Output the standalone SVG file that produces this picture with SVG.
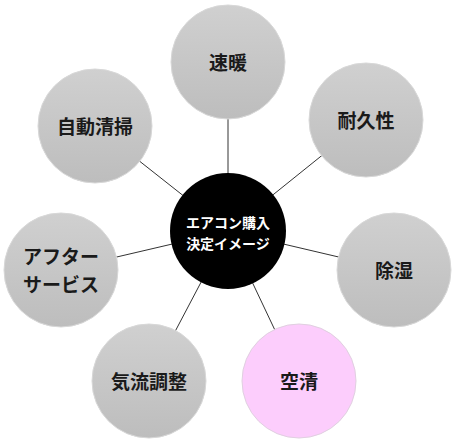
<svg xmlns="http://www.w3.org/2000/svg" width="457" height="445" viewBox="0 0 457 445">
<defs>
<linearGradient id="g" x1="0" y1="0" x2="0" y2="1">
<stop offset="0" stop-color="#d0d0d0"/>
<stop offset="1" stop-color="#bdbdbd"/>
</linearGradient>
<style>
.n{fill:url(#g);stroke:#d8d8d8;stroke-width:1}
.p{fill:#fccdfc;stroke:#e0d0e0;stroke-width:1}
.t{font-family:"Noto Sans CJK JP","Noto Sans",sans-serif;font-size:19px;font-weight:bold;fill:#1a1a1a;text-anchor:middle;dominant-baseline:central}
.c{font-family:"Noto Sans CJK JP","Noto Sans",sans-serif;font-size:14px;font-weight:bold;fill:#fff;text-anchor:middle;dominant-baseline:central}
.l{stroke:#333;stroke-width:1}
</style>
</defs>
<rect width="457" height="445" fill="#fff"/>
<g id="connectors">
<line class="l" x1="228" y1="231" x2="228" y2="62"/>
<line class="l" x1="228" y1="231" x2="366" y2="120"/>
<line class="l" x1="228" y1="231" x2="394" y2="270"/>
<line class="l" x1="228" y1="231" x2="299" y2="381"/>
<line class="l" x1="228" y1="231" x2="149" y2="381"/>
<line class="l" x1="228" y1="231" x2="61" y2="270"/>
<line class="l" x1="228" y1="231" x2="95" y2="126"/>
</g>
<g id="center">
<circle cx="228" cy="231" r="58" fill="#000"/>
<text class="c" x="228" y="222">エアコン購入</text>
<text class="c" x="228" y="243">決定イメージ</text>
</g>
<g id="n1"><circle class="n" cx="228" cy="62" r="57"/><text class="t" x="228" y="61">速暖</text></g>
<g id="n2"><circle class="n" cx="366" cy="120" r="57"/><text class="t" x="366" y="119">耐久性</text></g>
<g id="n3"><circle class="n" cx="394" cy="270" r="57"/><text class="t" x="394" y="269">除湿</text></g>
<g id="n4"><circle class="p" cx="299" cy="381" r="57"/><text class="t" x="299" y="380">空清</text></g>
<g id="n5"><circle class="n" cx="149" cy="381" r="57"/><text class="t" x="149" y="380">気流調整</text></g>
<g id="n6"><circle class="n" cx="61" cy="270" r="57"/><text class="t" x="61" y="255">アフター</text><text class="t" x="61" y="283">サービス</text></g>
<g id="n7"><circle class="n" cx="95" cy="126" r="57"/><text class="t" x="95" y="125">自動清掃</text></g>
</svg>
